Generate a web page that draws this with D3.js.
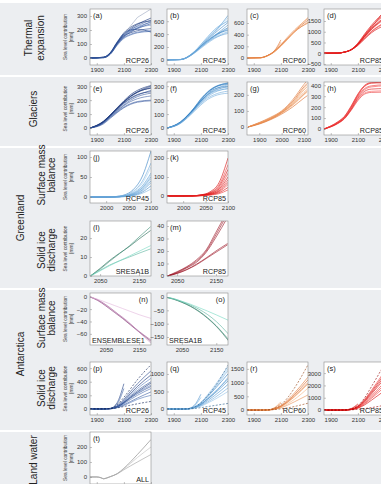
<!DOCTYPE html>
<html>
<head>
<meta charset="utf-8">
<script src="https://cdn.jsdelivr.net/npm/d3@7"></script>
<style>
body { margin: 0; background: #fff; }
svg { display: block; }
text { font-family: "Liberation Sans", Arial, sans-serif; }
</style>
</head>
<body>
<svg id="chart"></svg>
<script>
// ---- data: years per panel group ----
const yrsLong = [1850, 1950, 2000, 2050, 2100, 2150, 2200, 2300];
const yrsGlacG = [1850, 1900, 1950, 2000, 2050, 2100, 2115];
const yrsGrSmb = [1965, 2000, 2020, 2040, 2060, 2080, 2100];
const yrsGrSid = [2025, 2050, 2075, 2100, 2125, 2150, 2180];
const yrsAnSmb = [2000, 2025, 2050, 2075, 2100, 2125, 2150, 2186];
const yrsLand = [1850, 1900, 1930, 1950, 1970, 2000, 2050, 2100, 2200, 2300];

// thermal expansion
const thermA = [
    [0, 5, 35, 110, 170, 210, 240, 285],
    [0, 3, 30, 100, 160, 200, 230, 270],
    [0, 6, 40, 115, 175, 205, 225, 255],
    [0, 2, 28, 95, 150, 185, 210, 245],
    [0, 4, 33, 105, 165, 195, 215, 235],
    [0, 5, 36, 108, 158, 180, 195, 210],
    [0, 3, 30, 98, 145, 170, 185, 195],
    [0, 4, 32, 102, 170, 200, 205, 185],
    [0, 2, 27, 90, 140, 165, 180, 190],
    [0, 6, 38, 112, 180, 220, 245, 265],
    [0, 4, 31, 100, 155, 190, 215, 260]
];
const thermAref = [null, null, null, null, 170, 230, 290, 350];
const thermB = [
    [0, 5, 40, 110, 200, 290, 370, 500],
    [0, 4, 38, 105, 190, 280, 360, 480],
    [0, 6, 45, 125, 230, 340, 440, 620],
    [0, 5, 42, 120, 220, 330, 430, 690],
    [0, 3, 35, 100, 180, 260, 330, 430],
    [0, 5, 40, 115, 210, 300, 380, 460],
    [0, 4, 37, 108, 195, 275, 340, 410],
    [0, 6, 44, 122, 235, 350, 460, 650],
    [0, 5, 41, 112, 205, 295, 375, 540],
    [0, 4, 39, 110, 200, 285, 350, 440],
    [0, 5, 43, 118, 215, 315, 410, 580],
    [0, 6, 46, 126, 240, 360, 470, 600]
];
const thermC = [
    [0, 5, 40, 110, 220, 340, 460, 650],
    [0, 4, 35, 100, 200, 320, 440, 620],
    [0, 6, 42, 115, 230, 360, 480, 680],
    [0, 5, 38, 105, 210, 330, 450, 600],
    [0, 3, 36, 102, 205, 325, 455, 700],
    [0, 4, 38, 112, 270, null, null, null],
    [0, 6, 41, 118, 310, null, null, null]
];
const thermD = [
    [0, 5, 50, 160, 420, 800, 1150, 1700],
    [0, 4, 45, 150, 400, 760, 1100, 1600],
    [0, 6, 55, 175, 470, 900, 1300, 1950],
    [0, 5, 48, 155, 380, 700, 1000, 1400],
    [0, 4, 46, 150, 360, 660, 950, 1300],
    [0, 6, 52, 170, 450, 860, 1250, 1850],
    [0, 5, 50, 165, 430, 830, 1200, 2000],
    [0, 4, 47, 152, 390, 720, 1020, 1450],
    [0, 5, 51, 160, 410, 780, 1120, 1650],
    [0, 6, 53, 168, 440, 840, 1220, 1800]
];

// glaciers
const glacE = [
    [0, 45, 90, 140, 190, 230, 260, 300],
    [0, 40, 85, 130, 175, 210, 235, 270],
    [0, 50, 95, 145, 195, 240, 270, 305],
    [0, 35, 75, 115, 150, 175, 190, 200],
    [0, 42, 88, 135, 180, 215, 240, 260],
    [0, 38, 80, 120, 160, 190, 210, 230],
    [0, 45, 92, 140, 185, 225, 255, 290],
    [0, 30, 70, 110, 145, 170, 185, 195],
    [0, 48, 93, 142, 188, 228, 258, 285],
    [0, 40, 82, 125, 165, 200, 225, 250]
];
const glacF = [
    [0, 40, 85, 140, 200, 255, 290, 325],
    [0, 38, 80, 132, 190, 240, 275, 310],
    [0, 45, 90, 145, 210, 260, 295, 320],
    [0, 35, 75, 125, 175, 215, 240, 265],
    [0, 42, 86, 138, 195, 245, 280, 300],
    [0, 37, 78, 128, 180, 225, 255, 285],
    [0, 44, 88, 142, 205, 255, 290, 315],
    [0, 33, 72, 118, 165, 205, 230, 250],
    [0, 40, 83, 135, 192, 238, 268, 295],
    [0, 39, 81, 130, 185, 232, 262, 280]
];
const glacG = [
    [0, 25, 55, 95, 160, 250, 272],
    [0, 22, 50, 90, 150, 230, 250],
    [0, 28, 60, 100, 170, 265, 290],
    [0, 20, 48, 85, 135, 200, 218],
    [0, 24, 53, 92, 145, 215, 235],
    [0, 18, 45, 80, 125, 180, 195],
    [0, 26, 57, 97, 155, 240, 262],
    [0, 21, 49, 88, 140, 205, 224]
];
const glacH = [
    [0, 60, 110, 200, 310, 390, 420, 430],
    [0, 55, 100, 185, 290, 360, 385, 395],
    [0, 65, 115, 210, 320, 400, 425, 425],
    [0, 50, 95, 175, 270, 330, 345, 350],
    [0, 58, 105, 195, 300, 370, 395, 405],
    [0, 52, 98, 180, 280, 345, 365, 370],
    [0, 62, 112, 205, 315, 395, 420, 420],
    [0, 48, 92, 170, 260, 320, 335, 338]
];

// Greenland
const grSmbJ = [
    [0, 0, 1, 5, 18, 50, 115],
    [0, 0, 1, 4, 14, 38, 85],
    [0, 0, 1, 4, 12, 33, 75],
    [0, 0, 1, 3, 10, 27, 60],
    [0, 0, 0, 3, 9, 24, 55],
    [0, 0, 0, 3, 8, 22, 50],
    [0, 0, 0, 2, 7, 20, 45],
    [0, 0, 0, 2, 6, 17, 40],
    [0, 0, 0, 2, 5, 15, 35],
    [0, 0, 0, 1, 4, 12, 28],
    [0, 0, 0, 1, 3, 9, 20]
];
const grSmbK = [
    [0, 0, 1, 6, 22, 70, 200],
    [0, 0, 1, 5, 18, 58, 165],
    [0, 0, 1, 5, 16, 50, 140],
    [0, 0, 1, 4, 14, 42, 120],
    [0, 0, 1, 4, 12, 36, 100],
    [0, 0, 0, 3, 10, 30, 85],
    [0, 0, 0, 3, 9, 26, 72],
    [0, 0, 0, 2, 8, 22, 60],
    [0, 0, 0, 2, 6, 17, 45],
    [0, 0, 0, 1, 5, 12, 32]
];
const grSidL = [
    [0, 4, 8.3, 12, 15.5, 19.5, 24],
    [0, 3.6, 7.8, 11.8, 15.8, 20.5, 26],
    [0, 3, 5.8, 8, 10, 12, 14.3],
    [0, 2.7, 5.5, 8, 10.5, 13, 16]
];
const grSidM = [
    [0, 3, 7, 12, 20, 33, 50],
    [0, 2.5, 6.5, 11, 19, 31, 47],
    [0, 3.5, 7.5, 13, 21, 35, 52],
    [0, 2, 5, 9, 14, 19, 25],
    [0, 2.2, 5.3, 9.5, 14.5, 20, 26]
];

// Antarctica
const anSmbN = [
    [0, -6, -15, -25, -35, -46, -57, -72],
    [0, -5, -13, -23, -34, -45, -56, -70],
    [0, -5, -14, -24, -33, -44, -57, -75],
    [0, -4, -9, -14, -19, -24, -29, -35]
];
const anSmbO = [
    [0, -8, -20, -35, -55, -80, -110, -165],
    [0, -7, -19, -34, -53, -78, -108, -160],
    [0, -6, -17, -30, -46, -66, -92, -140],
    [0, -6, -16, -27, -40, -53, -67, -88]
];
const anSidP = [
    [0, 0, 5, 40, 120, 230, 330, 500],
    [0, 0, 4, 35, 100, 190, 270, 400],
    [0, 0, 3, 30, 90, 170, 240, 350],
    [0, 0, 6, 45, 140, 260, 370, 560],
    [0, 0, 3, 25, 75, 140, 200, 300],
    [0, 0, 4, 32, 95, 175, 250, 380],
    [0, 0, 2, 20, 60, 110, 160, 250],
    [0, 0, 5, 38, 110, 210, 300, 450],
    [0, 0, 3, 28, 85, 160, 225, 330],
    [0, 0, 2, 18, 50, 95, 140, 200],
    [0, 0, 8, 90, 370, null, null, null],
    [0, 0, 6, 70, 300, null, null, null]
];
const anSidPdash = [
    [0, 0, 5, 60, 170, 300, 430, 650],
    [0, 0, 2, 15, 35, 55, 75, 110]
];
const anSidQ = [
    [0, 0, 5, 50, 160, 350, 560, 1000],
    [0, 0, 4, 45, 140, 300, 480, 850],
    [0, 0, 6, 60, 190, 410, 660, 1200],
    [0, 0, 3, 35, 110, 240, 380, 700],
    [0, 0, 5, 55, 170, 370, 590, 1100],
    [0, 0, 4, 40, 130, 280, 440, 800],
    [0, 0, 3, 30, 95, 200, 320, 600],
    [0, 0, 6, 58, 180, 390, 620, 1150],
    [0, 0, 4, 42, 135, 290, 460, 900],
    [0, 0, 2, 25, 80, 170, 270, 500],
    [0, 0, 8, 100, 420, null, null, null],
    [0, 0, 6, 80, 330, null, null, null]
];
const anSidQdash = [
    [0, 0, 5, 55, 180, 380, 620, 1250],
    [0, 0, 2, 15, 40, 70, 100, 160]
];
const anSidR = [
    [0, 0, 4, 40, 140, 330, 560, 1100],
    [0, 0, 3, 35, 120, 280, 480, 950],
    [0, 0, 5, 45, 160, 370, 620, 1200],
    [0, 0, 3, 30, 100, 230, 390, 800],
    [0, 0, 2, 25, 80, 180, 300, 550],
    [0, 0, 4, 38, 130, 300, 510, 1000],
    [0, 0, 6, 80, 300, null, null, null],
    [0, 0, 5, 70, 250, null, null, null]
];
const anSidRdash = [
    [0, 0, 5, 60, 200, 450, 800, 1650],
    [0, 0, 2, 15, 45, 80, 130, 250]
];
const anSidS = [
    [0, 0, 5, 60, 250, 700, 1300, 2600],
    [0, 0, 4, 50, 220, 620, 1150, 2300],
    [0, 0, 6, 70, 290, 820, 1500, 3000],
    [0, 0, 3, 40, 180, 500, 950, 1900],
    [0, 0, 5, 65, 270, 760, 1400, 2800],
    [0, 0, 4, 45, 200, 560, 1050, 2100],
    [0, 0, 3, 35, 150, 420, 800, 1600],
    [0, 0, 6, 75, 310, 880, 1600, 3200],
    [0, 0, 8, 120, 500, null, null, null],
    [0, 0, 7, 100, 420, null, null, null]
];
const anSidSdash = [
    [0, 0, 6, 80, 350, 1000, 1900, 3800],
    [0, 0, 2, 20, 60, 120, 200, 400]
];

// land water
const landT = [
    [0, 0, -5, -12, -8, 2, 22, 58, 150, 250],
    [0, 0, -5, -12, -8, 2, 21, 54, 130, 200],
    [0, 0, -5, -12, -8, 2, 20, 48, 100, 150]
];

// ---- layout ----
const W = 381, H = 484;
const colX = [90, 167, 247, 324];
const panelW = 61;
const rows = {
    thermal: { top: 9, h: 56 },
    glacier: { top: 82, h: 53 },
    gsmb: { top: 151, h: 52 },
    gsid: { top: 221, h: 55 },
    asmb: { top: 293, h: 52 },
    asid: { top: 362, h: 53 },
    land: { top: 432, h: 52 }
};
const bands = [[3, 75], [77, 146], [148, 288], [290, 430], [432, 484]];

const pal = {
    rcp26: ['#0b2a72', '#5d82c4'],
    rcp45: ['#2c7cc0', '#a6cff0'],
    rcp60: ['#d65a12', '#f6b27c'],
    rcp85: ['#d40000', '#ff5a5a'],
    rcp85m: ['#9a1020', '#f07a80'],
    a1b: ['#1d6650', '#72d8c0'],
    e1: ['#7a2a6a', '#e2b4dc'],
    land: ['#7d7d7d', '#bdbdbd']
};

const panels = [
    { id: 'a', col: 0, row: 'thermal', x: [1850, 2300], y: [-50, 350], xt: [1900, 2100, 2300], yt: [0, 100, 200, 300], years: yrsLong, lines: thermA, pal: pal.rcp26, scen: 'RCP26', ytitle: true },
    { id: 'b', col: 1, row: 'thermal', x: [1850, 2300], y: [-80, 790], xt: [1900, 2100, 2300], yt: [0, 200, 400, 600], years: yrsLong, lines: thermB, pal: pal.rcp45, scen: 'RCP45' },
    { id: 'c', col: 2, row: 'thermal', x: [1850, 2300], y: [-120, 840], xt: [1900, 2100, 2300], yt: [0, 200, 400, 600], years: yrsLong, lines: thermC, pal: pal.rcp60, scen: 'RCP60' },
    { id: 'd', col: 3, row: 'thermal', x: [1850, 2300], y: [-550, 2060], xt: [1900, 2100, 2300], yt: [-500, 0, 500, 1000, 1500], years: yrsLong, lines: thermD, pal: pal.rcp85, scen: 'RCP85' },
    { id: 'e', col: 0, row: 'glacier', x: [1850, 2300], y: [-50, 330], xt: [1900, 2100, 2300], yt: [0, 100, 200, 300], years: yrsLong, lines: glacE, pal: pal.rcp26, scen: 'RCP26', ytitle: true },
    { id: 'f', col: 1, row: 'glacier', x: [1850, 2300], y: [-50, 330], xt: [1900, 2100, 2300], yt: [0, 100, 200, 300], years: yrsLong, lines: glacF, pal: pal.rcp45, scen: 'RCP45' },
    { id: 'g', col: 2, row: 'glacier', x: [1845, 2118], y: [-50, 280], xt: [1900, 2000, 2100], yt: [0, 100, 200], years: yrsGlacG, lines: glacG, pal: pal.rcp60, scen: 'RCP60' },
    { id: 'h', col: 3, row: 'glacier', x: [1850, 2300], y: [-55, 430], xt: [1900, 2100, 2300], yt: [0, 100, 200, 300, 400], years: yrsLong, lines: glacH, pal: pal.rcp85, scen: 'RCP85' },
    { id: 'j', col: 0, row: 'gsmb', x: [1964, 2100], y: [-15, 115], xt: [2000, 2050, 2100], yt: [0, 50, 100], years: yrsGrSmb, lines: grSmbJ, pal: pal.rcp45, scen: 'RCP45', ytitle: true },
    { id: 'k', col: 1, row: 'gsmb', x: [1964, 2100], y: [-37, 237], xt: [2000, 2050, 2100], yt: [0, 100, 200], years: yrsGrSmb, lines: grSmbK, pal: pal.rcp85, scen: 'RCP85' },
    { id: 'l', col: 0, row: 'gsid', x: [2024, 2181], y: [0, 29], xt: [2050, 2150], yt: [0, 10, 20], years: yrsGrSid, lines: grSidL, pal: pal.a1b, scen: 'SRESA1B', ytitle: true },
    { id: 'm', col: 1, row: 'gsid', x: [2024, 2181], y: [0, 44], xt: [2050, 2150], yt: [0, 10, 20, 30, 40], years: yrsGrSid, lines: grSidM, pal: pal.rcp85m, scen: 'RCP85' },
    { id: 'n', col: 0, row: 'asmb', x: [2002, 2186], y: [-78, 6], xt: [2050, 2150], yt: [-60, -40, -20, 0], years: yrsAnSmb, lines: anSmbN, pal: pal.e1, scen: 'ENSEMBLESE1', labRight: true, scenLeft: true, ytitle: true },
    { id: 'o', col: 1, row: 'asmb', x: [2007, 2184], y: [-180, 15], xt: [2050, 2150], yt: [-150, -100, -50, 0], years: yrsAnSmb, lines: anSmbO, pal: pal.a1b, scen: 'SRESA1B', labRight: true, scenLeft: true },
    { id: 'p', col: 0, row: 'asid', x: [1850, 2300], y: [-90, 690], xt: [1900, 2100, 2300], yt: [0, 200, 400, 600], years: yrsLong, lines: anSidP, dashed: anSidPdash, pal: pal.rcp26, scen: 'RCP26', ytitle: true },
    { id: 'q', col: 1, row: 'asid', x: [1850, 2300], y: [-170, 1340], xt: [1900, 2100, 2300], yt: [0, 500, 1000], years: yrsLong, lines: anSidQ, dashed: anSidQdash, pal: pal.rcp45, scen: 'RCP45' },
    { id: 'r', col: 2, row: 'asid', x: [1850, 2300], y: [-180, 1750], xt: [1900, 2100, 2300], yt: [0, 500, 1000, 1500], years: yrsLong, lines: anSidR, dashed: anSidRdash, pal: pal.rcp60, scen: 'RCP60' },
    { id: 's', col: 3, row: 'asid', x: [1850, 2300], y: [-400, 3900], xt: [1900, 2100, 2300], yt: [0, 1000, 2000, 3000], years: yrsLong, lines: anSidS, dashed: anSidSdash, pal: pal.rcp85, scen: 'RCP85' },
    { id: 't', col: 0, row: 'land', x: [1850, 2300], y: [-47, 300], xt: [1900, 2100, 2300], yt: [0, 100, 200], years: yrsLand, lines: landT, pal: pal.land, scen: 'ALL', ytitle: true }
];

// ---- drawing ----
const svg = d3.select('#chart').attr('width', W).attr('height', H);

svg.append('rect').attr('width', W).attr('height', H).attr('fill', '#fff');
svg.selectAll('.band')
    .data(bands)
    .join('rect')
    .attr('class', 'band')
    .attr('x', 0)
    .attr('y', d => d[0])
    .attr('width', W)
    .attr('height', d => d[1] - d[0])
    .attr('fill', '#eceef1');

function drawPanel(p) {
    const r = rows[p.row];
    const g = svg.append('g').attr('transform', `translate(${colX[p.col]},${r.top})`);
    const xs = d3.scaleLinear().domain(p.x).range([0, panelW]);
    const ys = d3.scaleLinear().domain(p.y).range([r.h, 0]);

    g.append('rect').attr('width', panelW).attr('height', r.h).attr('fill', '#fff');
    g.append('clipPath').attr('id', 'clip-' + p.id)
        .append('rect').attr('width', panelW).attr('height', r.h);

    const line = d3.line()
        .defined(d => d[1] != null)
        .x(d => xs(d[0]))
        .y(d => ys(d[1]))
        .curve(d3.curveMonotoneX);

    const lg = g.append('g').attr('clip-path', `url(#clip-${p.id})`);
    const color = d3.interpolateRgb(p.pal[0], p.pal[1]);
    const n = p.lines.length;

    p.lines.forEach((vals, i) => {
        lg.append('path')
            .datum(p.years.map((yr, k) => [yr, vals[k]]))
            .attr('d', line)
            .attr('fill', 'none')
            .attr('stroke', color(n > 1 ? ((i * 5) % n) / (n - 1) : 0))
            .attr('stroke-opacity', 0.85)
            .attr('stroke-width', 0.7);
    });

    if (p.dashed) {
        p.dashed.forEach(vals => {
            lg.append('path')
                .datum(p.years.map((yr, k) => [yr, vals[k]]))
                .attr('d', line)
                .attr('fill', 'none')
                .attr('stroke', d3.color(p.pal[0]).darker(1))
                .attr('stroke-width', 0.6)
                .attr('stroke-dasharray', '2,1.5');
        });
    }
    if (p.id === 'a') {
        lg.append('path')
            .datum(p.years.map((yr, k) => [yr, thermAref[k]]))
            .attr('d', line.curve(d3.curveLinear))
            .attr('fill', 'none')
            .attr('stroke', '#9aa6c0')
            .attr('stroke-width', 0.6);
    }

    // axes with inward ticks
    const yAxis = g.append('g')
        .call(d3.axisLeft(ys).tickValues(p.yt).tickFormat(d3.format('d')).tickSizeInner(-2).tickSizeOuter(0).tickPadding(3));
    const xAxis = g.append('g')
        .attr('transform', `translate(0,${r.h})`)
        .call(d3.axisBottom(xs).tickValues(p.xt).tickFormat(d3.format('d')).tickSizeInner(-2).tickSizeOuter(0).tickPadding(3));
    [yAxis, xAxis].forEach(ax => {
        ax.select('.domain').remove();
        ax.selectAll('line').attr('stroke', '#888').attr('stroke-width', 0.5);
        ax.selectAll('text').attr('font-size', '6px').attr('fill', '#333')
            .style('font-family', '"Liberation Sans", Arial, sans-serif');
    });

    g.append('rect')
        .attr('width', panelW).attr('height', r.h)
        .attr('fill', 'none').attr('stroke', '#8c8c8c').attr('stroke-width', 0.6);

    // panel letter and scenario name
    g.append('text')
        .attr('x', p.labRight ? panelW - 3 : 3)
        .attr('y', 9)
        .attr('text-anchor', p.labRight ? 'end' : 'start')
        .attr('font-size', '7.5px')
        .attr('fill', '#222')
        .text(`(${p.id})`);
    g.append('text')
        .attr('x', p.scenLeft ? 2 : panelW - 2)
        .attr('y', r.h - 2.5)
        .attr('text-anchor', p.scenLeft ? 'start' : 'end')
        .attr('font-size', '7.2px')
        .attr('fill', '#222')
        .text(p.scen);

    if (p.ytitle) {
        const t = g.append('text')
            .attr('transform', `translate(-23,${r.h / 2}) rotate(-90)`)
            .attr('text-anchor', 'middle')
            .attr('font-size', '4.8px')
            .attr('fill', '#444');
        t.append('tspan').attr('x', 0).attr('dy', 0).text('Sea level contribution');
        t.append('tspan').attr('x', 0).attr('dy', '1.2em').text('[mm]');
    }
}

panels.forEach(drawPanel);

// row labels on the left
const rowLabels = [
    { lines: ['Thermal', 'expansion'], x: 28, y: 38, gap: 12 },
    { lines: ['Glaciers'], x: 33, y: 109, gap: 0 },
    { lines: ['Greenland'], x: 20, y: 218, gap: 0 },
    { lines: ['Surface mass', 'balance'], x: 41, y: 175, gap: 10.5 },
    { lines: ['Solid ice', 'discharge'], x: 41, y: 250, gap: 10.5 },
    { lines: ['Antarctica'], x: 20, y: 354, gap: 0 },
    { lines: ['Surface mass', 'balance'], x: 41, y: 318, gap: 10.5 },
    { lines: ['Solid ice', 'discharge'], x: 41, y: 388, gap: 10.5 },
    { lines: ['Land water'], x: 33, y: 460, gap: 0 }
];

rowLabels.forEach(d => {
    d.lines.forEach((s, i) => {
        svg.append('text')
            .attr('transform', `translate(${d.x + i * d.gap},${d.y}) rotate(-90)`)
            .attr('text-anchor', 'middle')
            .attr('dy', '0.35em')
            .attr('font-size', '10px')
            .attr('fill', '#222')
            .text(s);
    });
});
</script>
</body>
</html>
